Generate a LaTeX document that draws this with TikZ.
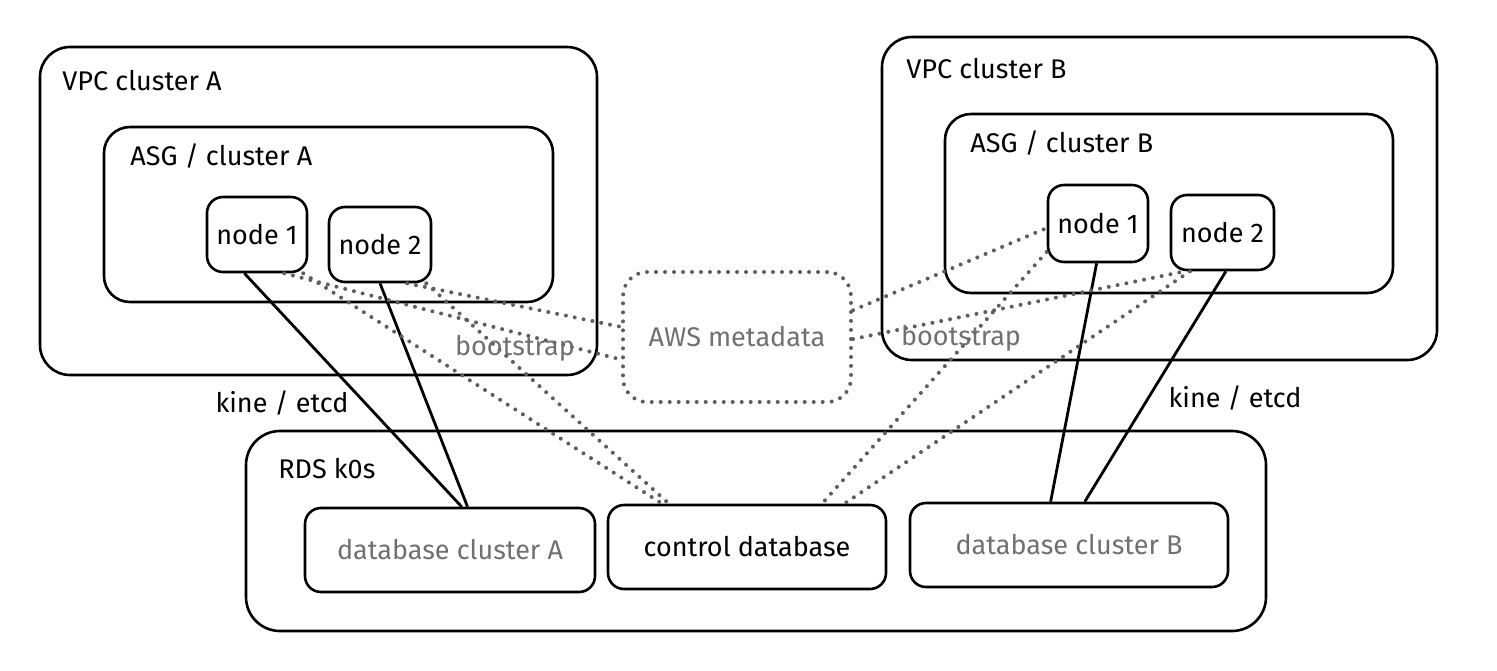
\documentclass[tikz,border=0pt]{standalone}
\usepackage{fontspec}
\setmainfont{Fira Sans}
\definecolor{softgray}{HTML}{707070}
\definecolor{dotgray}{HTML}{5E5E5E}
\begin{document}
\begin{tikzpicture}[x=0.5pt,y=-0.5pt,
    box/.style={draw,line width=1.3pt,inner sep=0pt,font=\fontsize{13.5}{16}\selectfont},
    txt/.style={inner sep=0pt,font=\fontsize{13.5}{16}\selectfont},
    dots/.style={draw=dotgray,line width=2pt,line cap=round,dash pattern=on 0pt off 4.5pt},
    link/.style={line width=1.4pt}]
\useasboundingbox (0,0) rectangle (1497,670);
% clusters
\node[box,rounded corners=15pt,minimum width=278.5pt,minimum height=164pt] (vpca) at (318.5,211) {};
\node[box,rounded corners=13pt,minimum width=224.5pt,minimum height=87.5pt] (asga) at (328.5,214.5) {};
\node[box,rounded corners=15pt,minimum width=277.5pt,minimum height=161.5pt] (vpcb) at (1159.5,198.5) {};
\node[box,rounded corners=13pt,minimum width=224pt,minimum height=89.5pt] (asgb) at (1169,203.5) {};
\node[box,rounded corners=17pt,minimum width=510pt,minimum height=100pt] (rds) at (756,531) {};
\node[txt,anchor=base west] (vpcalbl) at (62,90) {VPC cluster A};
\node[txt,anchor=base west] (asgalbl) at (130,165) {ASG / cluster A};
\node[txt,anchor=base west] (vpcblbl) at (906,78) {VPC cluster B};
\node[txt,anchor=base west] (asgblbl) at (970,152) {ASG / cluster B};
\node[txt,anchor=base west] (rdslbl) at (278,478) {RDS k0s};
% nodes
\node[box,rounded corners=8pt,minimum width=50pt,minimum height=37.5pt] (n1a) at (257,234.5) {node 1};
\node[box,rounded corners=8pt,minimum width=51pt,minimum height=37.5pt] (n2a) at (380,244.5) {node 2};
\node[box,rounded corners=8pt,minimum width=50pt,minimum height=38.5pt] (n1b) at (1098,223.5) {node 1};
\node[box,rounded corners=8pt,minimum width=51.5pt,minimum height=37.5pt] (n2b) at (1222.5,232.5) {node 2};
\node[box,dots,text=softgray,rounded corners=12pt,minimum width=114pt,minimum height=65pt] (aws) at (737,337) {AWS metadata};
\node[box,text=softgray,rounded corners=8pt,minimum width=145pt,minimum height=42pt] (dba) at (450,550) {database cluster A};
\node[box,rounded corners=8pt,minimum width=139pt,minimum height=42pt] (cdb) at (747,547) {control database};
\node[box,text=softgray,rounded corners=8pt,minimum width=159pt,minimum height=42pt] (dbb) at (1069,545) {database cluster B};
% kine / etcd
\draw[link] (n1a.252) -- (dba.75);
\draw[link] (n2a.270) -- (dba.68);
\draw[link] (n1b.268) -- (dbb.113);
\draw[link] (n2b.275) -- (dbb.70);
% bootstrap
\draw[dots] (n1a.305) -- (aws.191);
\draw[dots] (n1a.320) -- (cdb.153);
\draw[dots] (n2a.305) -- (aws.175);
\draw[dots] (n2a.320) -- (cdb.151);
\draw[dots] (aws.13) -- (n1b.185);
\draw[dots] (aws.359) -- (n2b.226);
\draw[dots] (n1b.209) -- (cdb.30);
\draw[dots] (n2b.230) -- (cdb.24);
\node[txt,text=softgray] (bsa) at (515,348) {bootstrap};
\node[txt,text=softgray] (bsb) at (961,338) {bootstrap};
\node[txt] (kea) at (282,403) {kine / etcd};
\node[txt] (keb) at (1235,398) {kine / etcd};
\end{tikzpicture}
\end{document}
